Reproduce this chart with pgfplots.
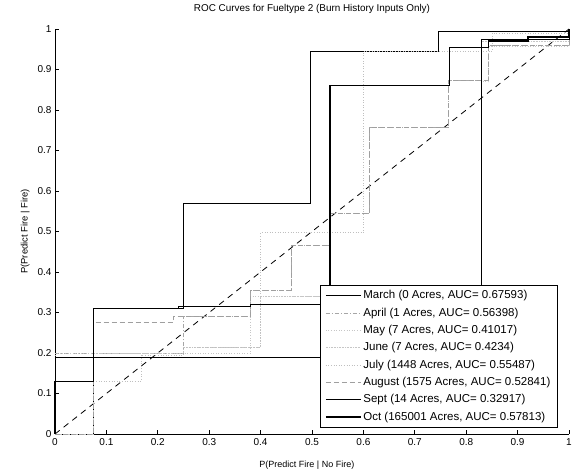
\documentclass[border=0pt]{standalone}
\usepackage{fontspec}
\setmainfont{Liberation Sans}
\usepackage{pgfplots}
\pgfplotsset{compat=1.18}

\begin{document}
\begin{tikzpicture}
\begin{axis}[
  at={(55pt,37pt)}, anchor=origin,
  scale only axis, width=514pt, height=405pt,
  xmin=0, xmax=1, ymin=0, ymax=1,
  axis x line*=bottom, axis y line*=left,
  axis line style={line width=0.8pt},
  xtick={0,0.1,0.2,0.3,0.4,0.5,0.6,0.7,0.8,0.9,1},
  ytick={0,0.1,0.2,0.3,0.4,0.5,0.6,0.7,0.8,0.9,1},
  tick align=inside, major tick length=4pt,
  tick style={line width=0.8pt, black},
  /pgf/number format/assume math mode=true,
  tick label style={font=\fontsize{10}{12}\selectfont},
  xticklabel style={yshift=-1pt},
  title={ROC Curves for Fueltype 2 (Burn History Inputs Only)},
  title style={at={(axis description cs:0.5,1)}, anchor=center, yshift=14pt,
    font=\fontsize{9.9}{11}\selectfont},
  xlabel={P(Predict Fire | No Fire)},
  xlabel style={at={(axis description cs:0.49,-0.0765)}, anchor=center,
    font=\fontsize{9}{11}\selectfont},
  ylabel={P(Predict Fire | Fire)},
  ylabel style={at={(axis description cs:-0.058,0.5)}, anchor=center,
    font=\fontsize{9.4}{11}\selectfont},
  clip=false,
  legend cell align=left,
  legend image code/.code={\draw[#1] (0pt,0pt) -- (35pt,0pt);},
  legend style={at={(0.978,0.017)}, anchor=south east, draw=black,
    line width=0.6pt, fill=white, font=\fontsize{11.5}{13}\selectfont,
    row sep=3.5pt, inner xsep=5pt, inner ysep=3pt},
]

% chance line
\addplot[black, line width=0.8pt, dash pattern=on 6pt off 5pt, forget plot]
  coordinates {(0,0) (1,1)};

% March
\addplot[black, line width=0.7pt] coordinates {
  (0,0) (0.075,0) (0.075,0.31) (0.25,0.31) (0.25,0.57) (0.496,0.57)
  (0.496,0.945) (0.746,0.945) (0.746,0.993) (1,0.993) (1,1)};
\addlegendentry{March (0 Acres, AUC= 0.67593)}

% April
\addplot[gray!70, line width=0.6pt, dash pattern=on 4pt off 2pt on 1pt off 2pt] coordinates {
  (0,0) (0,0.2) (0.25,0.2) (0.25,0.29) (0.38,0.29) (0.38,0.355) (0.46,0.355)
  (0.46,0.467) (0.535,0.467) (0.535,0.545) (0.612,0.545) (0.612,0.758)
  (0.766,0.758) (0.766,0.874) (0.843,0.874) (0.843,0.96) (1,0.96) (1,1)};
\addlegendentry{April (1 Acres, AUC= 0.56398)}

% May
\addplot[gray!45, line width=0.6pt, dotted] coordinates {
  (0,0) (0,0.2) (0.38,0.2) (0.38,0.34) (0.83,0.34) (0.83,0.87) (0.843,0.87)
  (0.843,0.958) (1,0.958) (1,1)};
\addlegendentry{May (7 Acres, AUC= 0.41017)}

% June
\addplot[gray!45, line width=0.6pt, densely dotted] coordinates {
  (0,0) (0.075,0) (0.075,0.2) (0.25,0.2) (0.25,0.215) (0.4,0.215) (0.4,0.34)
  (0.83,0.34) (0.83,0.97) (1,0.97) (1,1)};
\addlegendentry{June (7 Acres, AUC= 0.4234)}

% July
\addplot[gray!50, line width=0.6pt, dotted] coordinates {
  (0,0) (0,0.13) (0.167,0.13) (0.167,0.195) (0.25,0.195) (0.25,0.215)
  (0.4,0.215) (0.4,0.497) (0.6,0.497) (0.6,0.945) (0.85,0.945) (0.85,0.99)
  (1,0.99) (1,1)};
\addlegendentry{July (1448 Acres, AUC= 0.55487)}

% August
\addplot[gray!75, line width=0.6pt, dash pattern=on 5pt off 3pt] coordinates {
  (0,0) (0.075,0) (0.075,0.275) (0.23,0.275) (0.23,0.29) (0.38,0.29)
  (0.38,0.355) (0.46,0.355) (0.46,0.467) (0.535,0.467) (0.535,0.545)
  (0.612,0.545) (0.612,0.758) (0.766,0.758) (0.766,0.874) (0.843,0.874)
  (0.843,0.96) (1,0.96) (1,1)};
\addlegendentry{August (1575 Acres, AUC= 0.52841)}

% Sept
\addplot[black, line width=0.7pt] coordinates {
  (0,0) (0,0.19) (0.83,0.19) (0.83,0.975) (1,0.975) (1,1)};
\addlegendentry{Sept (14 Acres, AUC= 0.32917)}

% Oct
\addplot[black, line width=1.3pt] coordinates {
  (0,0) (0,0.13) (0.075,0.13) (0.075,0.31) (0.24,0.31) (0.24,0.315)
  (0.38,0.315) (0.38,0.32) (0.535,0.32) (0.535,0.86) (0.767,0.86)
  (0.767,0.955) (0.843,0.955) (0.843,0.97) (0.92,0.97) (0.92,0.98)
  (1,0.98) (1,1)};
\addlegendentry{Oct (165001 Acres, AUC= 0.57813)}

\end{axis}
\pgfresetboundingbox
\useasboundingbox (0,0) rectangle (573pt,471pt);
\end{tikzpicture}
\end{document}
